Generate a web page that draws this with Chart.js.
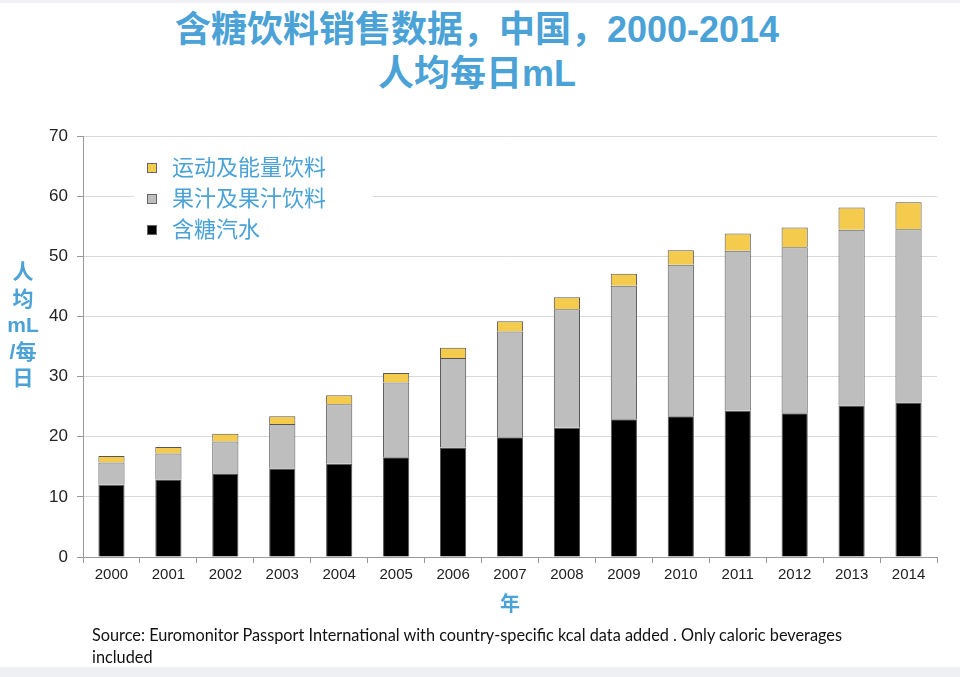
<!DOCTYPE html>
<html lang="zh">
<head>
  <meta charset="UTF-8" />
  <title>含糖饮料销售数据，中国，2000-2014</title>
  <script src="https://cdn.jsdelivr.net/npm/chart.js"></script>
  <style>
    html, body { margin: 0; padding: 0; }
    body { width: 960px; height: 677px; background: #eef0f3; position: relative; overflow: hidden;
           font-family: "Liberation Sans", "Noto Sans CJK SC", sans-serif; }
    .page { position: absolute; left: 0; top: 3px; width: 960px; height: 664px; background: #fff; }
    .title { position: absolute; left: 0; top: 8px; width: 954px; text-align: center; color: #4aa2d6;
             font-size: 36px; font-weight: bold; line-height: 44px; }
    .ytitle { position: absolute; left: 0; top: 259px; width: 46px; text-align: center; color: #4aa2d6;
              font-size: 21px; font-weight: bold; line-height: 26.5px; }
    .chart-box { position: absolute; left: 0; top: 0; width: 960px; height: 677px; }
    .source { position: absolute; left: 92px; top: 624px; font-family: "Lato", sans-serif; font-size: 16.3px;
              line-height: 22px; color: #111; white-space: nowrap; }
  </style>
</head>
<body>
  <div class="page"></div>
  <div class="title">含糖饮料销售数据，中国，2000-2014<br>人均每日mL</div>
  <div class="chart-box"><canvas id="sugarChart"></canvas></div>
  <div class="ytitle">人<br>均<br>mL<br>/每<br>日</div>
  <div class="source">Source: Euromonitor Passport International with country-specific kcal data added . Only caloric beverages<br>included</div>

  <script>
    const years = ['2000', '2001', '2002', '2003', '2004', '2005', '2006', '2007',
                   '2008', '2009', '2010', '2011', '2012', '2013', '2014'];
    const sodaValues   = [12.0, 12.9, 13.8, 14.7, 15.5, 16.6, 18.2, 19.9, 21.5, 22.9, 23.4, 24.3, 23.9, 25.2, 25.7];
    const juiceValues  = [3.7, 4.3, 5.4, 7.4, 9.9, 12.4, 14.9, 17.6, 19.7, 22.2, 25.2, 26.6, 27.6, 29.2, 28.8];
    const sportsValues = [1.1, 1.1, 1.3, 1.3, 1.5, 1.6, 1.7, 1.7, 2.0, 2.0, 2.4, 2.9, 3.3, 3.7, 4.5];
    const seriesNames  = ['含糖汽水', '果汁及果汁饮料', '运动及能量饮料'];
    const yTicks = [0, 10, 20, 30, 40, 50, 60, 70];

    const blue = '#4aa2d6';

    // legend drawn inside the plot, top-left, on a white patch
    const innerLegend = {
      id: 'innerLegend',
      afterDatasetsDraw(chart) {
        const ctx = chart.ctx;
        ctx.save();
        ctx.fillStyle = '#fff';
        ctx.fillRect(134, 150, 239, 95);
        const items = chart.data.datasets.slice().reverse();
        items.forEach((ds, i) => {
          const cy = 168 + i * 31;
          ctx.fillStyle = ds.backgroundColor;
          ctx.fillRect(147, cy - 5, 10, 10);
          ctx.strokeStyle = '#666';
          ctx.lineWidth = 1;
          ctx.strokeRect(147.5, cy - 4.5, 9, 9);
          ctx.fillStyle = blue;
          ctx.font = '22px "Liberation Sans", "Noto Sans CJK SC", sans-serif';
          ctx.textBaseline = 'middle';
          ctx.fillText(ds.label, 172, cy + 1);
        });
        ctx.restore();
      }
    };

    const ctx = document.getElementById('sugarChart').getContext('2d');
    new Chart(ctx, {
      type: 'bar',
      data: {
        labels: years,
        datasets: [
          { label: seriesNames[0], data: sodaValues, backgroundColor: '#000000' },
          { label: seriesNames[1], data: juiceValues, backgroundColor: '#bebebe' },
          { label: seriesNames[2], data: sportsValues, backgroundColor: '#f4cb4c' }
        ]
      },
      options: {
        responsive: true,
        maintainAspectRatio: false,
        animation: false,
        layout: { padding: { top: 136, left: 0, right: 23, bottom: 58 } },
        datasets: {
          bar: { borderColor: '#555', borderWidth: 1, categoryPercentage: 1, barPercentage: 0.46 }
        },
        plugins: {
          legend: { display: false },
          tooltip: { enabled: false }
        },
        scales: {
          x: {
            stacked: true,
            afterFit(scale) { scale.height = 62; },
            grid: { display: true, drawOnChartArea: false, drawTicks: true, tickLength: 6, tickColor: '#999' },
            border: { color: '#999' },
            ticks: { color: '#222', padding: 3, font: { family: 'Liberation Sans', size: 15 } },
            title: {
              display: true, text: '年', color: blue, padding: { top: 0, bottom: 4 },
              font: { family: 'Noto Sans CJK SC', size: 20, weight: 'bold' }
            }
          },
          y: {
            stacked: true,
            min: 0,
            max: 70,
            afterFit(scale) { scale.width = 83; },
            afterBuildTicks(scale) { scale.ticks = yTicks.map(v => ({ value: v })); },
            grid: { color: '#d9d9d9', tickLength: 6, tickColor: '#999' },
            border: { color: '#999' },
            ticks: { color: '#222', padding: 9, font: { family: 'Liberation Sans', size: 17 } }
          }
        }
      },
      plugins: [innerLegend]
    });
  </script>
</body>
</html>
